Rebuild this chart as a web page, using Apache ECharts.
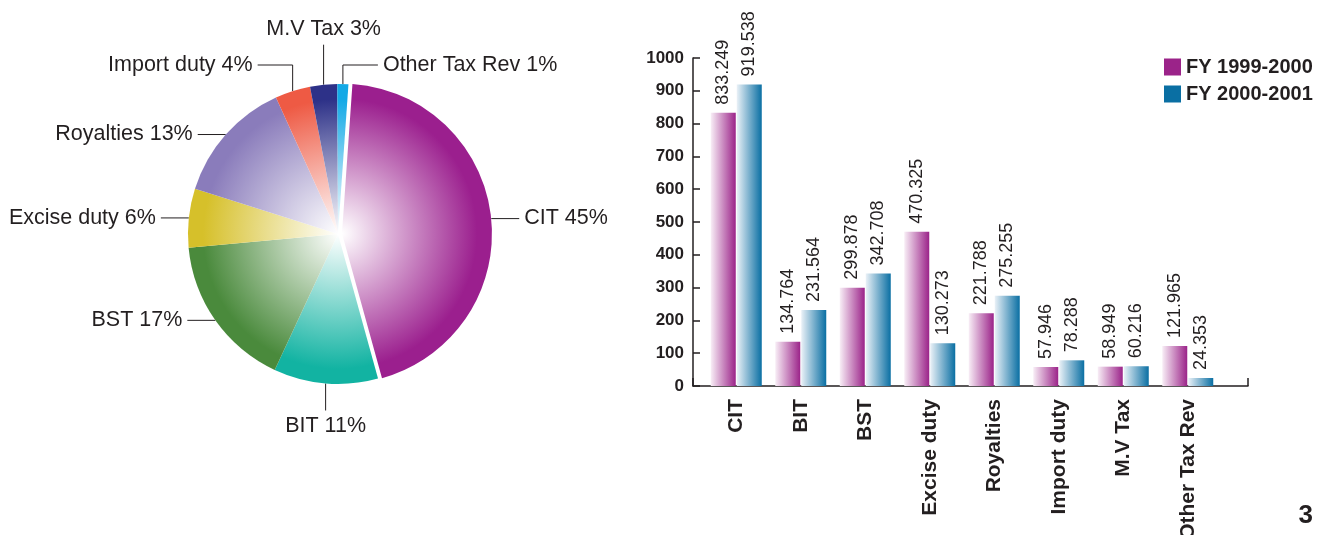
<!DOCTYPE html>
<html>
<head>
<meta charset="utf-8">
<script src="https://cdn.jsdelivr.net/npm/echarts@6/dist/echarts.min.js"></script>
<style>
  html, body { margin: 0; padding: 0; background: #fff; }
  #main { width: 1321px; height: 535px; }
</style>
</head>
<body>
<div id="main"></div>
<script>
  // data
  const categories = ['CIT', 'BIT', 'BST', 'Excise duty', 'Royalties', 'Import duty', 'M.V Tax', 'Other Tax Rev'];
  const fy1999 = [833.249, 134.764, 299.878, 470.325, 221.788, 57.946, 58.949, 121.965];
  const fy2000 = [919.538, 231.564, 342.708, 130.273, 275.255, 78.288, 60.216, 24.353];
  const seriesNames = ['FY 1999-2000', 'FY 2000-2001'];

  const pieColors = ['#9b1f8e', '#12b3a2', '#4a8a3c', '#d6c02a', '#8a7cbb', '#ee5a44', '#2d3188', '#13a9e6'];
  const barColors = [['#f8eef6', '#9b2389'], ['#eaf1f7', '#0a6fa3']];

  const font = 'Liberation Sans, Arial, sans-serif';
  const ink = '#231f20';
  const pieCenter = [338, 234];
  const pieR = 150;

  let chart = echarts.init(document.getElementById('main'));

  let radial = (c) => ({
    type: 'radial', global: true,
    x: pieCenter[0], y: pieCenter[1], r: pieR,
    colorStops: [{ offset: 0, color: '#ffffff' }, { offset: 0.9, color: c }, { offset: 1, color: c }]
  });

  let pieData = categories.map((name, i) => ({
    name: name,
    value: fy2000[i],
    selected: i === 0,
    itemStyle: { color: radial(pieColors[i]) }
  }));

  // leader lines: horizontal at the sides, vertical at top/bottom
  let pieLabelLayout = (p) => {
    const pts = p.labelLinePoints;
    if (!pts) return {};
    const x0 = pts[0][0], y0 = pts[0][1];
    const dx = pts[1][0] - x0, dy = pts[1][1] - y0;
    const len = Math.sqrt(dx * dx + dy * dy) || 1;
    const ux = dx / len, uy = dy / len;
    const gap = 5;
    if (Math.abs(uy) < 0.9) {
      const side = ux < 0 ? -1 : 1;
      const x1 = x0 + side * 28;
      return {
        x: x1 + side * gap, y: y0, align: side < 0 ? 'right' : 'left', verticalAlign: 'middle',
        labelLinePoints: [[x0, y0], [x1, y0], [x1, y0]]
      };
    }
    const vs = uy < 0 ? -1 : 1;
    if (ux < 0 && ux > -0.2) {
      const y1 = y0 + vs * (vs < 0 ? 40 : 27);
      return {
        x: x0, y: y1 + vs * gap, align: 'center', verticalAlign: vs < 0 ? 'bottom' : 'top',
        labelLinePoints: [[x0, y0], [x0, y1], [x0, y1]]
      };
    }
    const side = ux < 0 ? -1 : 1;
    const y1 = pieCenter[1] + vs * (pieR + 19);
    const x2 = x0 + side * 35;
    return {
      x: x2 + side * gap, y: y1, align: side < 0 ? 'right' : 'left', verticalAlign: 'middle',
      labelLinePoints: [[x0, y0], [x0, y1], [x2, y1]]
    };
  };

  let barSeries = [fy1999, fy2000].map((vals, i) => ({
    type: 'bar',
    name: seriesNames[i],
    xAxisIndex: 0,
    yAxisIndex: 0,
    data: vals,
    barWidth: 25,
    barGap: '4%',
    itemStyle: {
      color: new echarts.graphic.LinearGradient(0, 0, 1, 0, [
        { offset: 0, color: barColors[i][0] },
        { offset: 1, color: barColors[i][1] }
      ])
    },
    label: {
      show: true,
      position: 'top',
      rotate: 90,
      align: 'left',
      verticalAlign: 'middle',
      distance: 8,
      fontSize: 18,
      fontFamily: font,
      color: ink,
      formatter: (p) => p.value.toFixed(3)
    }
  }));

  let option = {
    animation: false,
    backgroundColor: '#fff',
    legend: {
      orient: 'vertical',
      left: 1159,
      top: 52,
      itemWidth: 17,
      itemHeight: 17,
      itemGap: 7,
      icon: 'rect',
      textStyle: { fontSize: 20, fontWeight: 'bold', fontFamily: font, color: ink, lineHeight: 17 },
      data: seriesNames.map((n, i) => ({ name: n, itemStyle: { color: barColors[i][1] } }))
    },
    grid: [
      { left: 704, right: 101, top: 58, bottom: 149, outerBoundsMode: 'none' },
      { left: 693, right: 73, top: 58, bottom: 149, outerBoundsMode: 'none' }
    ],
    xAxis: [
      {
        type: 'category',
        gridIndex: 0,
        data: categories,
        axisLine: { show: false },
        axisTick: { show: false },
        axisLabel: {
          rotate: 90,
          margin: 13,
          fontSize: 21,
          fontWeight: 'bold',
          fontFamily: font,
          color: ink
        }
      },
      {
        type: 'category',
        gridIndex: 1,
        data: [''],
        axisLine: { lineStyle: { color: ink, width: 1.5 } },
        axisTick: { show: true, inside: true, length: 8, lineStyle: { color: ink, width: 1.5 } },
        axisLabel: { show: false }
      }
    ],
    yAxis: [
      {
        type: 'value',
        gridIndex: 0,
        min: 0, max: 1000, interval: 100,
        show: false
      },
      {
        type: 'value',
        gridIndex: 1,
        min: 0, max: 1000, interval: 100,
        axisLine: { show: true, lineStyle: { color: ink, width: 1.5 } },
        axisTick: { show: true, inside: true, length: 7, lineStyle: { color: ink, width: 1.5 } },
        splitLine: { show: false },
        axisLabel: { margin: 9, fontSize: 17, fontWeight: 'bold', fontFamily: font, color: ink, formatter: (v) => String(v) }
      }
    ],
    graphic: [
      {
        type: 'text',
        right: 8,
        bottom: 6,
        style: { text: '3', font: 'bold 26px ' + font, fill: ink }
      }
    ],
    series: [
      {
        type: 'pie',
        center: pieCenter,
        radius: pieR,
        startAngle: 86,
        clockwise: true,
        percentPrecision: 0,
        selectedMode: 'single',
        selectedOffset: 4,
        avoidLabelOverlap: false,
        data: pieData,
        label: {
          show: true,
          position: 'outside',
          formatter: '{b} {d}%',
          fontSize: 21.5,
          fontFamily: font,
          color: ink
        },
        // the selected (CIT) label keeps the default layout, so these match its leader
        labelLine: {
          show: true,
          length: 4,
          length2: 24,
          lineStyle: { color: ink, width: 1 }
        },
        labelLayout: pieLabelLayout,
        emphasis: { disabled: true }
      },
      ...barSeries
    ]
  };

  chart.setOption(option);
</script>
</body>
</html>
